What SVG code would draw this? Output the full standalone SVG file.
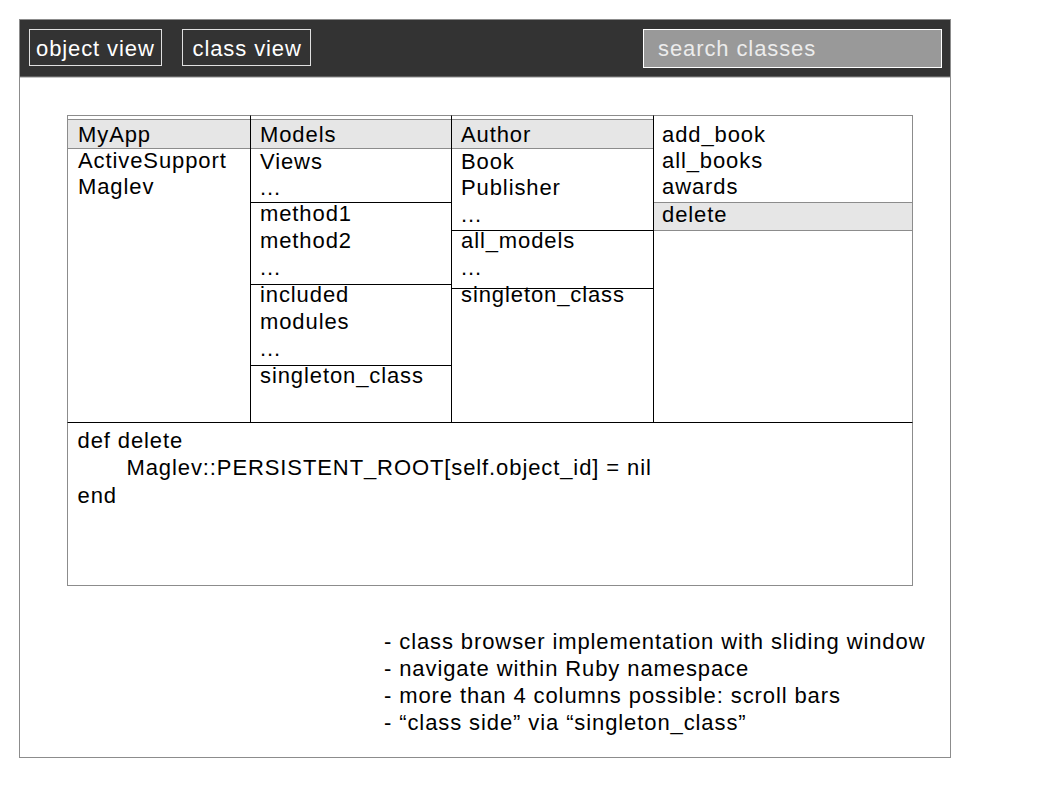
<svg xmlns="http://www.w3.org/2000/svg" width="1058" height="794" viewBox="0 0 1058 794">
<style>
text{font-family:"Liberation Sans",Arial,sans-serif;font-size:22px;letter-spacing:0.9px;fill:#000}
.btn{fill:none;stroke:#e0e0e0;stroke-width:1}
.light{fill:#ffffff}
.search{fill:#ececec}
.band{fill:#e6e6e6;stroke:#8c8c8c;stroke-width:1}
.div{stroke:#000;stroke-width:1;fill:none}
.gray{stroke:#8c8c8c;stroke-width:1;fill:none}
</style>
<rect width="1058" height="794" fill="#fff"/>
<g id="frame">
<rect x="19.5" y="19.5" width="931" height="738" fill="#fff" stroke="#8c8c8c"/>
<rect x="19.5" y="19.5" width="931" height="57.5" fill="#333333" stroke="#8c8c8c"/>
</g>
<g id="object-view">
<rect class="btn" x="29.5" y="29.5" width="132" height="36"/>
<text class="light" x="36" y="55.5">object view</text>
</g>
<g id="class-view">
<rect class="btn" x="182.5" y="29.5" width="128" height="36"/>
<text class="light" x="192.5" y="55.5">class view</text>
</g>
<g id="search">
<rect x="643.5" y="29.5" width="298" height="38" fill="#999999" stroke="#ffffff"/>
<text class="search" x="658" y="56">search classes</text>
</g>
<g id="browser">
<rect x="67.5" y="115.5" width="845" height="470" fill="#fff" stroke="#8c8c8c"/>
<rect class="band" x="67.5" y="119.5" width="586" height="29"/>
<rect class="band" x="653.5" y="202.5" width="259" height="28"/>
<path class="div" d="M250.5 115.5V422.5M451.5 115.5V422.5M653.5 115.5V422.5M67.5 422.5H912.5"/>
<path class="div" d="M250.5 202.5H451.5M250.5 284.5H451.5M250.5 365.5H451.5M451.5 230.5H653.5M451.5 288.5H653.5"/>
</g>
<g id="col1">
<text x="78" y="141.5">MyApp</text>
<text x="78" y="168">ActiveSupport</text>
<text x="78" y="194">Maglev</text>
</g>
<g id="col2">
<text x="260" y="141.5">Models</text>
<text x="260" y="168.5">Views</text>
<text x="260" y="195">...</text>
<text x="260" y="221">method1</text>
<text x="260" y="248">method2</text>
<text x="260" y="275">...</text>
<text x="260" y="302">included</text>
<text x="260" y="329">modules</text>
<text x="260" y="356">...</text>
<text x="260" y="383">singleton_class</text>
</g>
<g id="col3">
<text x="461" y="141.5">Author</text>
<text x="461" y="168.5">Book</text>
<text x="461" y="194.5">Publisher</text>
<text x="461" y="221.5">...</text>
<text x="461" y="248">all_models</text>
<text x="461" y="275">...</text>
<text x="461" y="302">singleton_class</text>
</g>
<g id="col4">
<text x="662" y="141.5">add_book</text>
<text x="662" y="168">all_books</text>
<text x="662" y="194">awards</text>
<text x="662" y="221.5">delete</text>
</g>
<g id="code">
<text x="77.5" y="448">def delete</text>
<text x="126.5" y="475">Maglev::PERSISTENT_ROOT[self.object_id] = nil</text>
<text x="77.5" y="502.5">end</text>
</g>
<g id="notes">
<text x="384" y="649">- class browser implementation with sliding window</text>
<text x="384" y="676">- navigate within Ruby namespace</text>
<text x="384" y="702.5">- more than 4 columns possible: scroll bars</text>
<text x="384" y="729.5">- “class side” via “singleton_class”</text>
</g>
</svg>
